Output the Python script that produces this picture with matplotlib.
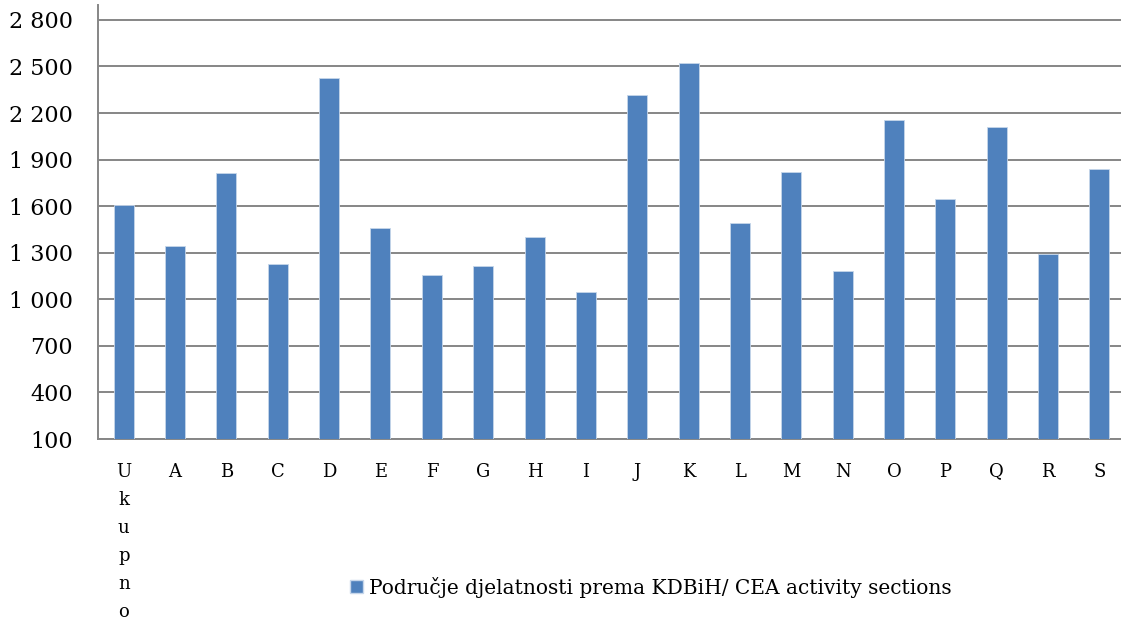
import matplotlib
matplotlib.use("Agg")
import matplotlib.pyplot as plt
from matplotlib.patches import Patch

categories = ["Ukupno", "A", "B", "C", "D", "E", "F", "G", "H", "I",
              "J", "K", "L", "M", "N", "O", "P", "Q", "R", "S"]
values = [1605, 1345, 1811, 1230, 2428, 1459, 1157, 1217, 1399, 1045,
          2316, 2521, 1492, 1822, 1185, 2158, 1643, 2113, 1294, 1841]
yticks = [100, 400, 700, 1000, 1300, 1600, 1900, 2200, 2500, 2800]
legend_label = "Područje djelatnosti prema KDBiH/ CEA activity sections"

plt.rcParams['font.family'] = ['DejaVu Serif']
W, H = 1121, 628
fig = plt.figure(figsize=(W / 100, H / 100), dpi=100)
ax = fig.add_axes([98 / W, 1 - 439 / H, (1121 - 98) / W, (439 - 5) / H])

x = list(range(len(categories)))
ax.bar(x, values, width=0.39, color="#4F81BD", edgecolor="#c6d6ea",
       linewidth=0.6, zorder=3)
ax.set_ylim(100, 2896)
ax.set_xlim(-0.5, 19.42)
ax.set_yticks(yticks)
ax.set_yticklabels([f"{v:,}".replace(",", " ") for v in yticks], fontsize=16)
ax.yaxis.grid(True, color="#868686", linewidth=1.4, zorder=0)
ax.tick_params(axis="y", length=0, pad=18)
ax.tick_params(axis="x", length=0, pad=17)
ax.set_xticks(x)
labels = ["\n".join(c) if len(c) > 1 else c for c in categories]
ax.set_xticklabels(labels, fontsize=13, linespacing=1.72, va="top")
for s in ["top", "right"]:
    ax.spines[s].set_visible(False)
for s in ["left", "bottom"]:
    ax.spines[s].set_color("#868686")
    ax.spines[s].set_linewidth(1.4)

fig.legend(handles=[Patch(facecolor="#4F81BD", edgecolor="#c6d6ea")],
           labels=[legend_label], loc="center left",
           bbox_to_anchor=(332 / W, 1 - 587 / H), frameon=False,
           fontsize=14.5, handlelength=0.65, handleheight=0.65,
           handletextpad=0.3)

fig.savefig("out.png", dpi=100)
